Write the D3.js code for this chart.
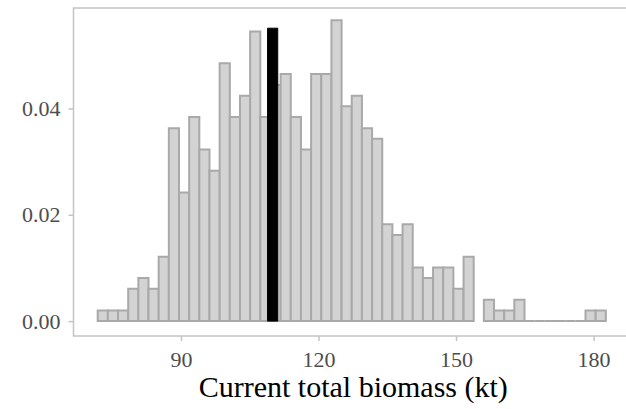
<!DOCTYPE html>
<html>
<head>
<meta charset="utf-8">
<script src="https://cdn.jsdelivr.net/npm/d3@7"></script>
<style>
  body { margin: 0; background: #fff; }
  svg { display: block; }
</style>
</head>
<body>
<svg id="canvas" width="626" height="409"></svg>
<script>
// histogram bins (kt) and densities
var binStart = 71.84;
var binWidth = 2.2166;
var densities = [
  0.0020, 0.0020, 0.0020, 0.0061, 0.0081, 0.0061, 0.0121, 0.0363, 0.0242, 0.0384,
  0.0323, 0.0283, 0.0485, 0.0384, 0.0424, 0.0545, 0.0384, 0.0444, 0.0465, 0.0384,
  0.0323, 0.0465, 0.0465, 0.0566, 0.0404, 0.0424, 0.0363, 0.0343, 0.0182, 0.0162,
  0.0182, 0.0101, 0.0081, 0.0101, 0.0101, 0.0061, 0.0121, null, 0.0040, 0.0020,
  0.0020, 0.0040, 0, 0, 0, 0, 0, 0, 0.0020, 0.0020
];
// highlighted value
var highlight = [{value: 110, density: 0.0551}];
var xTicks = [90, 120, 150, 180];
var yTicks = [0, 0.02, 0.04];
var xTitle = 'Current total biomass (kt)';

var svg = d3.select('#canvas');
var font = '"Liberation Serif", "Times New Roman", serif';

var panelLeft = 73.5;
var panelTop = 8;
var panelRight = 633;
var panelBottom = 336;

var x = d3.scaleLinear().domain([66.56, 188.6]).range([panelLeft, panelRight]);
var y = d3.scaleLinear().domain([-0.0028, 0.0589]).range([panelBottom, panelTop]);

var bins = densities.map(function(d, i) {
  return {x0: binStart + i * binWidth, x1: binStart + (i + 1) * binWidth, density: d};
});

// bars as closed paths so that empty bins still show a flat line
function barPath(x0, x1, v) {
  var p = d3.path();
  p.moveTo(x(x0), y(0));
  p.lineTo(x(x0), y(v));
  p.lineTo(x(x1), y(v));
  p.lineTo(x(x1), y(0));
  p.closePath();
  return p.toString();
}

svg.append('g')
  .selectAll('path')
  .data(bins.filter(function(d) { return d.density !== null; }))
  .enter()
  .append('path')
  .attr('d', function(d) { return barPath(d.x0, d.x1, d.density); })
  .style('fill', '#d3d3d3')
  .style('stroke', '#a9a9a9')
  .style('stroke-width', 2);

svg.append('g')
  .selectAll('path')
  .data(highlight)
  .enter()
  .append('path')
  .attr('d', function(d) {
    return barPath(d.value - binWidth / 2, d.value + binWidth / 2, d.density);
  })
  .style('fill', '#000')
  .style('stroke', '#000')
  .style('stroke-width', 1);

// panel border
svg.append('rect')
  .attr('x', panelLeft)
  .attr('y', panelTop)
  .attr('width', panelRight - panelLeft)
  .attr('height', panelBottom - panelTop)
  .style('fill', 'none')
  .style('stroke', '#c4c4c4')
  .style('stroke-width', 1.5);

var xAxis = svg.append('g')
  .attr('transform', 'translate(0,' + panelBottom + ')')
  .call(d3.axisBottom(x).tickValues(xTicks).tickSize(5).tickPadding(10).tickFormat(d3.format('d')));
var yAxis = svg.append('g')
  .attr('transform', 'translate(' + panelLeft + ',0)')
  .call(d3.axisLeft(y).tickValues(yTicks).tickSize(5).tickPadding(8).tickFormat(d3.format('.2f')));

[xAxis, yAxis].forEach(function(a) {
  a.select('.domain').remove();
  a.selectAll('line').style('stroke', '#c4c4c4').style('stroke-width', 1.5);
  a.selectAll('text')
    .style('font-family', font)
    .style('font-size', '22px')
    .style('fill', '#4d4d4d');
});

svg.append('text')
  .attr('x', (panelLeft + panelRight) / 2)
  .attr('y', 397)
  .attr('text-anchor', 'middle')
  .style('font-family', font)
  .style('font-size', '30px')
  .style('fill', '#000')
  .text(xTitle);
</script>
</body>
</html>
